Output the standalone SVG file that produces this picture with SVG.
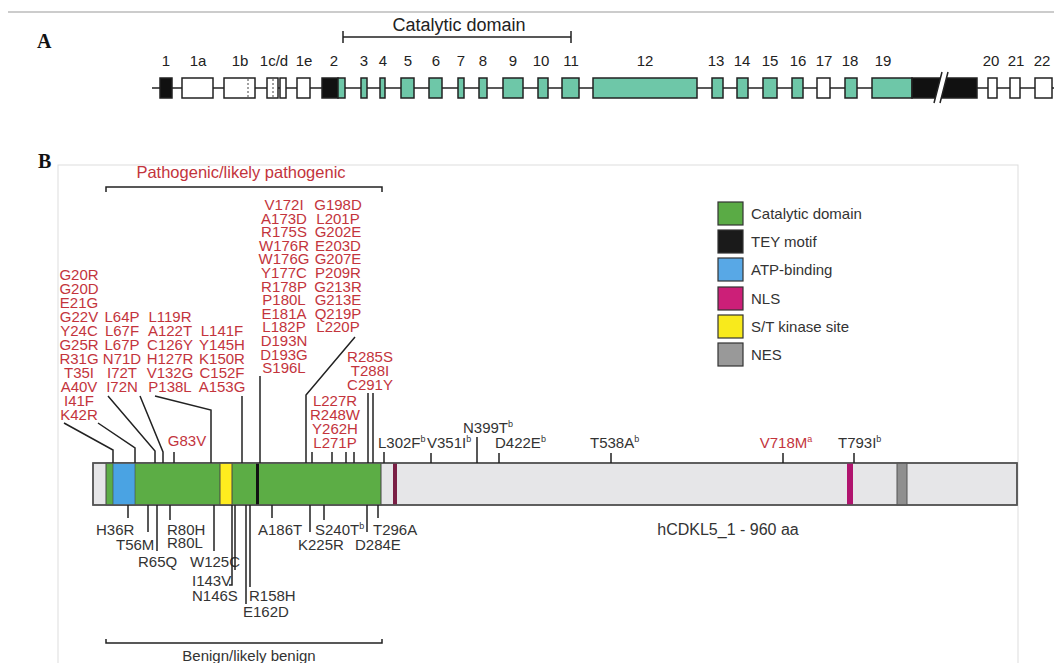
<svg xmlns="http://www.w3.org/2000/svg" width="1054" height="663" viewBox="0 0 1054 663">
<style>
text{font-family:"Liberation Sans",Arial,sans-serif}
.pl{font-family:"Liberation Serif","Times New Roman",serif;font-weight:bold;font-size:20px;fill:#111}
.ex{font-size:15px;fill:#222;text-anchor:middle}
.exb{stroke:#222;stroke-width:1.5}
.w{fill:#fff}
.t{fill:#6ec7a8}
.k{fill:#111}
.red{font-size:15px;fill:#c3343c;text-anchor:middle}
.blk{font-size:15px;fill:#333}
.sup{font-size:9px}
.ln{stroke:#222;stroke-width:1.5;fill:none}
.lg{font-size:15px;fill:#333}
.lgb{stroke:#333;stroke-width:1.2}
</style>
<rect width="1054" height="663" fill="#fff"/>
<!-- Panel A -->
<g id="panelA">
<line x1="8" y1="12" x2="1054" y2="12" stroke="#999" stroke-width="1"/>
<text class="pl" x="37" y="48">A</text>
<g id="catalytic-bracket">
<text x="459" y="31" font-size="18" fill="#222" text-anchor="middle">Catalytic domain</text>
<path class="ln" d="M343,31V43M343,37H571M571,31V43" stroke-width="2"/>
</g>
<line x1="152" y1="88" x2="1054" y2="88" class="ln" stroke-width="2"/>
<g id="exons">
<rect class="exb k" x="160" y="78" width="12" height="20"/>
<rect class="exb w" x="182" y="78" width="31" height="20"/>
<rect class="exb w" x="224" y="78" width="31" height="20"/>
<line x1="248" y1="79" x2="248" y2="97" stroke="#444" stroke-width="1" stroke-dasharray="2,2"/>
<rect class="exb w" x="267" y="78" width="11" height="20"/>
<line x1="273" y1="79" x2="273" y2="97" stroke="#444" stroke-width="1" stroke-dasharray="2,2"/>
<rect class="exb w" x="280" y="78" width="6" height="20"/>
<rect class="exb w" x="297" y="78" width="13" height="20"/>
<rect class="exb k" x="322" y="78" width="16" height="20"/>
<rect class="exb t" x="338" y="78" width="7" height="20"/>
<rect class="exb t" x="361" y="78" width="6" height="20"/>
<rect class="exb t" x="380" y="78" width="5" height="20"/>
<rect class="exb t" x="401" y="78" width="13" height="20"/>
<rect class="exb t" x="429" y="78" width="13" height="20"/>
<rect class="exb t" x="458" y="78" width="6" height="20"/>
<rect class="exb t" x="479" y="78" width="8" height="20"/>
<rect class="exb t" x="503" y="78" width="20" height="20"/>
<rect class="exb t" x="538" y="78" width="10" height="20"/>
<rect class="exb t" x="562" y="78" width="17" height="20"/>
<rect class="exb t" x="593" y="78" width="104" height="20"/>
<rect class="exb t" x="712" y="78" width="11" height="20"/>
<rect class="exb t" x="737" y="78" width="11" height="20"/>
<rect class="exb t" x="763" y="78" width="14" height="20"/>
<rect class="exb t" x="792" y="78" width="11" height="20"/>
<rect class="exb w" x="817" y="78" width="13" height="20"/>
<rect class="exb t" x="845" y="78" width="12" height="20"/>
<rect class="exb t" x="872" y="78" width="40" height="20"/>
<rect class="exb k" x="912" y="78" width="65" height="20"/>
<polygon points="942,72 948,72 940,103 934,103" fill="#fff"/>
<path d="M942,72L934,103M948,72L940,103" stroke="#222" stroke-width="1.5"/>
<rect class="exb w" x="988" y="78" width="9" height="20"/>
<rect class="exb w" x="1010" y="78" width="10" height="20"/>
<rect class="exb w" x="1035" y="78" width="17" height="20"/>
</g>
<g id="exon-labels">
<text class="ex" x="166" y="66">1</text>
<text class="ex" x="198" y="66">1a</text>
<text class="ex" x="240" y="66">1b</text>
<text class="ex" x="274" y="66">1c/d</text>
<text class="ex" x="304" y="66">1e</text>
<text class="ex" x="334" y="66">2</text>
<text class="ex" x="364" y="66">3</text>
<text class="ex" x="383" y="66">4</text>
<text class="ex" x="408" y="66">5</text>
<text class="ex" x="436" y="66">6</text>
<text class="ex" x="461" y="66">7</text>
<text class="ex" x="483" y="66">8</text>
<text class="ex" x="513" y="66">9</text>
<text class="ex" x="541" y="66">10</text>
<text class="ex" x="571" y="66">11</text>
<text class="ex" x="645" y="66">12</text>
<text class="ex" x="716" y="66">13</text>
<text class="ex" x="742" y="66">14</text>
<text class="ex" x="770" y="66">15</text>
<text class="ex" x="798" y="66">16</text>
<text class="ex" x="824" y="66">17</text>
<text class="ex" x="850" y="66">18</text>
<text class="ex" x="883" y="66">19</text>
<text class="ex" x="991" y="66">20</text>
<text class="ex" x="1016" y="66">21</text>
<text class="ex" x="1042" y="66">22</text>
</g>
</g>
<!-- Panel B -->
<text class="pl" x="38" y="168">B</text>
<rect x="58" y="165" width="960" height="520" fill="none" stroke="#ddd" stroke-width="1"/>
<g id="pathogenic-bracket">
<text x="241" y="178" font-size="16.5" fill="#c3343c" text-anchor="middle">Pathogenic/likely pathogenic</text>
<path class="ln" d="M106,192V187H382V192"/>
</g>
<g id="benign-bracket">
<path class="ln" d="M106,639V643H382V639"/>
<text x="249" y="661" font-size="15" fill="#333" text-anchor="middle">Benign/likely benign</text>
</g>
<g id="legend">
<rect class="lgb" x="718" y="202" width="25" height="23" fill="#5aab45"/>
<rect class="lgb" x="718" y="230" width="25" height="23" fill="#1a1a1a"/>
<rect class="lgb" x="718" y="258" width="25" height="23" fill="#58a8e6"/>
<rect class="lgb" x="718" y="287" width="25" height="23" fill="#cc1f78"/>
<rect class="lgb" x="718" y="315" width="25" height="23" fill="#f8ea1c"/>
<rect class="lgb" x="718" y="343" width="25" height="23" fill="#999"/>
<text class="lg" x="751" y="219">Catalytic domain</text>
<text class="lg" x="751" y="247">TEY motif</text>
<text class="lg" x="751" y="275">ATP-binding</text>
<text class="lg" x="751" y="304">NLS</text>
<text class="lg" x="751" y="332">S/T kinase site</text>
<text class="lg" x="751" y="360">NES</text>
</g>
<g id="protein">
<rect x="93" y="463" width="924" height="42" fill="#e6e6e8" stroke="#555" stroke-width="1.5"/>
<rect x="106" y="463" width="275" height="42" fill="#5cad45" stroke="#444" stroke-width="1"/>
<rect x="113" y="463" width="22" height="42" fill="#4aa3e3" stroke="#444" stroke-width="0.6"/>
<rect x="220" y="463" width="12" height="42" fill="#ffec1f" stroke="#444" stroke-width="1"/>
<rect x="256" y="463" width="3" height="42" fill="#111"/>
<rect x="393" y="463" width="4" height="42" fill="#7a1f45"/>
<rect x="847" y="463" width="6" height="42" fill="#b0146e"/>
<rect x="897" y="463" width="10" height="42" fill="#8f8f8f" stroke="#555" stroke-width="1"/>
<rect x="93" y="463" width="924" height="42" fill="none" stroke="#555" stroke-width="1.5"/>
<text x="728" y="535" font-size="16" fill="#333" text-anchor="middle">hCDKL5_1 - 960 aa</text>
</g>
<g id="pathogenic-labels">
<text class="red"><tspan x="79" y="280">G20R</tspan><tspan x="79" dy="14">G20D</tspan><tspan x="79" dy="14">E21G</tspan><tspan x="79" dy="14">G22V</tspan><tspan x="79" dy="14">Y24C</tspan><tspan x="79" dy="14">G25R</tspan><tspan x="79" dy="14">R31G</tspan><tspan x="79" dy="14">T35I</tspan><tspan x="79" dy="14">A40V</tspan><tspan x="79" dy="14">I41F</tspan><tspan x="79" dy="14">K42R</tspan></text>
<text class="red"><tspan x="122" y="322">L64P</tspan><tspan x="122" dy="14">L67F</tspan><tspan x="122" dy="14">L67P</tspan><tspan x="122" dy="14">N71D</tspan><tspan x="122" dy="14">I72T</tspan><tspan x="122" dy="14">I72N</tspan></text>
<text class="red"><tspan x="170" y="322">L119R</tspan><tspan x="170" dy="14">A122T</tspan><tspan x="170" dy="14">C126Y</tspan><tspan x="170" dy="14">H127R</tspan><tspan x="170" dy="14">V132G</tspan><tspan x="170" dy="14">P138L</tspan></text>
<text class="red"><tspan x="222" y="336">L141F</tspan><tspan x="222" dy="14">Y145H</tspan><tspan x="222" dy="14">K150R</tspan><tspan x="222" dy="14">C152F</tspan><tspan x="222" dy="14">A153G</tspan></text>
<text class="red"><tspan x="284" y="210">V172I</tspan><tspan x="284" dy="13.6">A173D</tspan><tspan x="284" dy="13.6">R175S</tspan><tspan x="284" dy="13.6">W176R</tspan><tspan x="284" dy="13.6">W176G</tspan><tspan x="284" dy="13.6">Y177C</tspan><tspan x="284" dy="13.6">R178P</tspan><tspan x="284" dy="13.6">P180L</tspan><tspan x="284" dy="13.6">E181A</tspan><tspan x="284" dy="13.6">L182P</tspan><tspan x="284" dy="13.6">D193N</tspan><tspan x="284" dy="13.6">D193G</tspan><tspan x="284" dy="13.6">S196L</tspan></text>
<text class="red"><tspan x="338" y="210">G198D</tspan><tspan x="338" dy="13.6">L201P</tspan><tspan x="338" dy="13.6">G202E</tspan><tspan x="338" dy="13.6">E203D</tspan><tspan x="338" dy="13.6">G207E</tspan><tspan x="338" dy="13.6">P209R</tspan><tspan x="338" dy="13.6">G213R</tspan><tspan x="338" dy="13.6">G213E</tspan><tspan x="338" dy="13.6">Q219P</tspan><tspan x="338" dy="13.6">L220P</tspan></text>
<text class="red"><tspan x="370" y="362">R285S</tspan><tspan x="370" dy="14">T288I</tspan><tspan x="370" dy="14">C291Y</tspan></text>
<text class="red"><tspan x="335" y="406">L227R</tspan><tspan x="335" dy="14">R248W</tspan><tspan x="335" dy="14">Y262H</tspan><tspan x="335" dy="14">L271P</tspan></text>
<text class="red" x="187" y="446">G83V</text>
<text class="red" x="786" y="448">V718M<tspan class="sup" dy="-6">a</tspan></text>
</g>
<g id="other-labels">
<text class="blk" x="378" y="448">L302F<tspan class="sup" dy="-6">b</tspan></text>
<text class="blk" x="427" y="448">V351I<tspan class="sup" dy="-6">b</tspan></text>
<text class="blk" x="463" y="433">N399T<tspan class="sup" dy="-6">b</tspan></text>
<text class="blk" x="495" y="448">D422E<tspan class="sup" dy="-6">b</tspan></text>
<text class="blk" x="590" y="448">T538A<tspan class="sup" dy="-6">b</tspan></text>
<text class="blk" x="838" y="448">T793I<tspan class="sup" dy="-6">b</tspan></text>
<text class="blk" x="96" y="535">H36R</text>
<text class="blk" x="116" y="550">T56M</text>
<text class="blk" x="138" y="567">R65Q</text>
<text class="blk" x="167" y="535">R80H</text>
<text class="blk" x="167" y="548">R80L</text>
<text class="blk" x="190" y="567">W125C</text>
<text class="blk" x="192" y="586">I143V</text>
<text class="blk" x="192" y="601">N146S</text>
<text class="blk" x="249" y="601">R158H</text>
<text class="blk" x="243" y="617">E162D</text>
<text class="blk" x="258" y="535">A186T</text>
<text class="blk" x="315" y="535">S240T<tspan class="sup" dy="-6">b</tspan></text>
<text class="blk" x="298" y="550">K225R</text>
<text class="blk" x="373" y="535">T296A</text>
<text class="blk" x="355" y="550">D284E</text>
</g>
<g id="connectors" class="ln">
<path d="M64,423L113,450V463"/>
<path d="M98,423L135,448V463"/>
<path d="M108,396L155,451V463"/>
<path d="M140,396L163,452V463"/>
<path d="M155,396L211,410V463"/>
<path d="M174,452V463"/>
<path d="M242,396V463"/>
<path d="M260,376V463"/>
<path d="M355,337L306,395V463"/>
<path d="M312,452V463M332,452V463M346,452V463M354,452V463"/>
<path d="M368,393V463M373,393V463"/>
<path d="M384,452V463"/>
<path d="M431,453V463M477,437V463M499,453V463M611,453V463M783,453V463M854,453V463"/>
<path d="M128,505V518M148,505V532M157,505V551M170,505V520M214,505V551"/>
<path d="M232,505V585H229M235,505V570M246,505V604M250,505V587"/>
<path d="M272,505V518M310,505V532M324,505V520M367,505V532M378,505V518"/>
</g>
</svg>
